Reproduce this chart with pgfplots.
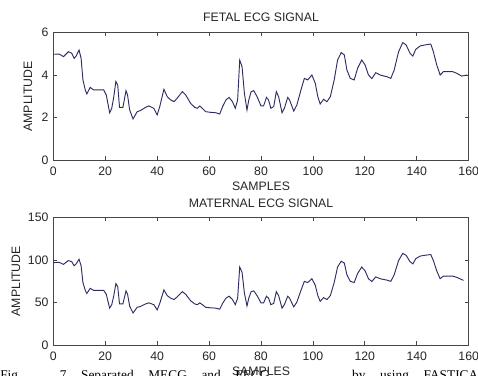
\documentclass[border=0pt]{standalone}
\usepackage{fontspec}
\setmainfont{Liberation Sans}
\newfontfamily\capfont{Liberation Serif}
\usepackage{pgfplots}
\usepackage{pgfplotstable}
\pgfplotsset{compat=1.18}
\definecolor{sig}{RGB}{45,45,100}
\definecolor{axc}{RGB}{70,70,70}

\pgfplotstableread{
s v
0 4.97
2.3 4.98
3.9 4.86
5.8 5.09
7.1 5.02
8.0 4.78
8.8 4.89
9.9 5.17
10.7 4.78
11.4 3.77
12.3 3.30
12.9 3.11
14.2 3.42
15.5 3.30
19.4 3.30
20.4 3.06
21.7 2.23
22.5 2.44
23.2 2.91
24.1 3.70
24.8 3.53
25.5 2.48
26.8 2.48
28.0 3.27
28.6 3.06
29.4 2.36
30.7 1.94
32.3 2.28
33.5 2.33
35.5 2.48
36.8 2.55
38.7 2.44
40.0 2.13
41.0 2.52
42.6 3.33
43.9 2.98
45.2 2.83
46.5 2.75
47.7 2.91
49.7 3.22
51.0 3.06
52.9 2.67
54.5 2.48
55.5 2.44
56.4 2.55
57.4 2.44
58.7 2.28
60.6 2.25
62.6 2.23
64.1 2.17
65.2 2.52
66.5 2.83
67.7 2.95
69.0 2.75
70.1 2.44
71.0 2.83
71.8 4.70
72.7 4.39
73.6 3.14
74.6 2.36
75.3 2.83
76.2 3.22
77.2 3.27
78.5 2.98
80.0 2.55
81.0 2.55
82.1 2.95
82.9 2.83
83.8 2.44
84.9 2.52
85.9 3.22
86.8 2.98
88.1 2.23
89.0 2.44
90.3 2.95
91.0 2.83
92.6 2.31
93.8 2.59
95.4 3.30
96.7 3.84
98.0 3.77
99.6 4.00
100.9 3.61
101.9 2.98
102.8 2.64
104.1 2.86
105.4 2.75
106.7 2.98
108.2 3.77
109.5 4.70
110.9 5.05
112.1 4.94
113.1 4.23
114.4 3.84
115.9 3.77
117.2 4.31
118.8 4.70
120.1 4.47
121.4 4.00
122.7 3.83
124.2 4.11
125.9 4.00
127.4 3.95
128.5 3.92
130.0 3.84
131.3 4.23
133.0 5.09
134.6 5.52
135.9 5.41
137.4 5.02
138.5 4.89
139.6 5.20
141.3 5.36
143.2 5.41
145.4 5.45
146.4 5.09
147.7 4.47
149.0 4.00
150.3 4.16
152.2 4.16
153.8 4.16
155.4 4.08
157.3 3.95
159.5 4.00
}\fetal

\pgfplotstableread{
s v
0 96.9
2.3 97.1
3.9 94.8
5.8 99.3
7.1 97.9
8.0 93.2
8.8 95.4
9.9 100.8
10.7 93.2
11.4 73.5
12.3 64.4
12.9 60.6
14.2 66.7
15.5 64.4
19.4 64.4
20.4 59.7
21.7 43.5
22.5 47.6
23.2 56.7
24.1 72.2
24.8 68.8
25.5 48.4
26.8 48.4
28.0 63.8
28.6 59.7
29.4 46.0
30.7 37.8
32.3 44.5
33.5 45.4
35.5 48.4
36.8 49.7
38.7 47.6
40.0 41.5
41.0 49.1
42.6 64.9
43.9 58.1
45.2 55.2
46.5 53.6
47.7 56.7
49.7 62.8
51.0 59.7
52.9 52.1
54.5 48.4
55.5 47.6
56.4 49.7
57.4 47.6
58.7 44.5
60.6 43.9
62.6 43.5
64.1 42.3
65.2 49.1
66.5 55.2
67.7 57.5
69.0 53.6
70.1 47.6
71.0 55.2
71.8 91.7
72.7 85.6
73.6 61.2
74.6 46.0
75.3 55.2
76.2 62.8
77.2 63.8
78.5 58.1
80.0 49.7
81.0 49.7
82.1 57.5
82.9 55.2
83.8 47.6
84.9 49.1
85.9 62.8
86.8 58.1
88.1 43.5
89.0 47.6
90.3 57.5
91.0 55.2
92.6 45.0
93.8 50.5
95.4 64.4
96.7 74.9
98.0 73.5
99.6 78.0
100.9 70.4
101.9 58.1
102.8 51.5
104.1 55.8
105.4 53.6
106.7 58.1
108.2 73.5
109.5 91.7
110.9 98.5
112.1 96.3
113.1 82.5
114.4 74.9
115.9 73.5
117.2 84.0
118.8 91.7
120.1 87.2
121.4 78.0
122.7 74.7
124.2 80.1
125.9 78.0
127.4 77.0
128.5 76.4
130.0 74.9
131.3 82.5
133.0 99.3
134.6 107.6
135.9 105.5
137.4 97.9
138.5 95.4
139.6 101.4
141.3 104.5
143.2 105.5
145.4 106.3
146.4 99.3
147.7 87.2
149.0 78.0
150.3 81.1
152.2 81.1
153.8 81.1
155.4 79.6
157.3 77.0
158.0 76.0
}\maternal

\pgfplotsset{
  ecg/.style={
    scale only axis,
    width=311.5pt, height=96pt,
    anchor=south west,
    xmin=0, xmax=160,
    xtick={0,20,...,160},
    axis line style={axc, line width=0.6pt},
    tick style={axc, line width=0.6pt},
    major tick length=3pt,
    font=\fontsize{9.2}{11}\selectfont,
    /pgf/number format/assume math mode=true,
    xticklabel style={anchor=center, yshift=-8pt, text=black!85},
    yticklabel style={anchor=east, xshift=-3.5pt, inner sep=0pt, text=black!85},
    xlabel={SAMPLES},
    ylabel={AMPLITUDE},
    xlabel style={at={(axis description cs:0.5,-0.20)}, anchor=center, text=black!85},
    ylabel style={anchor=center, rotate=0, text=black!85},
    clip=false,
  }
}

\begin{document}
\begin{tikzpicture}
\useasboundingbox (0,0) rectangle (358.5pt,281.25pt);
\begin{axis}[ecg, at={(40pt,161pt)},
  ymin=0, ymax=6, ytick={0,2,4,6},
  ylabel style={at={(axis description cs:-0.061,0.5)}}]
\addplot[sig, line width=0.7pt] table[x=s,y=v] {\fetal};
\node[anchor=center, text=black!85, font=\fontsize{9.2}{11}\selectfont] at (axis description cs:0.5,1.12) {FETAL ECG SIGNAL};
\end{axis}
\begin{axis}[ecg, at={(40pt,22.3pt)},
  ymin=0, ymax=150, ytick={0,50,100,150},
  ylabel style={at={(axis description cs:-0.09,0.5)}}]
\addplot[sig, line width=0.7pt] table[x=s,y=v] {\maternal};
\node[anchor=center, text=black!85, font=\fontsize{9.2}{11}\selectfont] at (axis description cs:0.5,1.112) {MATERNAL ECG SIGNAL};
\end{axis}
\node[anchor=base west, inner sep=0pt, font=\capfont\fontsize{10}{12}\selectfont] at (0,-3.2pt)
  {\makebox[358.5pt][s]{Fig. 7 Separated MECG and FECG \hspace{4em} by using FASTICA}};
\end{tikzpicture}
\end{document}
